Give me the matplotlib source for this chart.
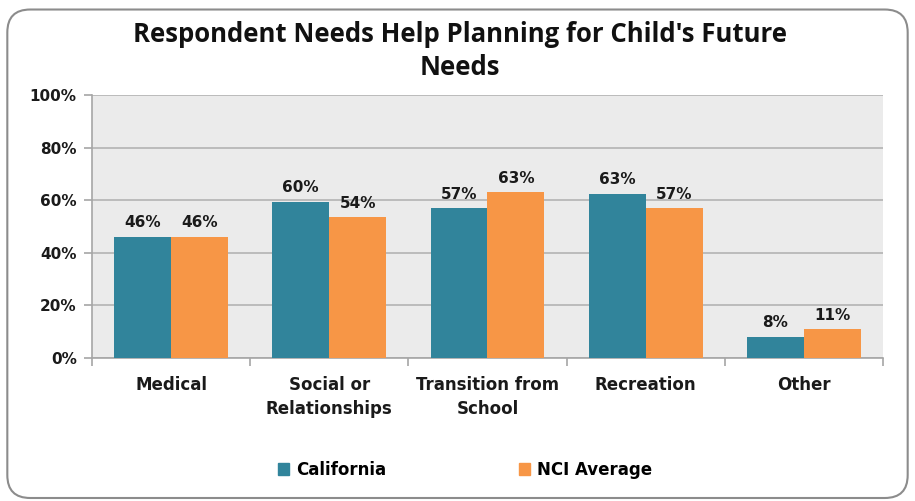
import matplotlib
matplotlib.use("Agg")
import matplotlib.pyplot as plt
import numpy as np
from matplotlib.patches import FancyBboxPatch, Patch

plt.rcParams["font.family"] = ["DejaVu Sans"]

categories = ["Medical", "Social or\nRelationships", "Transition from\nSchool", "Recreation", "Other"]
california = [46, 59.5, 57, 62.5, 8]
nci = [46, 53.5, 63, 57, 11]
california_labels = ["46%", "60%", "57%", "63%", "8%"]
nci_labels = ["46%", "54%", "63%", "57%", "11%"]
yticks = [0, 20, 40, 60, 80, 100]
ytick_labels = ["0%", "20%", "40%", "60%", "80%", "100%"]

teal = "#31849B"
orange = "#F79646"

fig = plt.figure(figsize=(9.15, 5.01), dpi=100)
fig.patch.set_facecolor("white")

border = FancyBboxPatch((0.008, 0.006), 0.984, 0.975, boxstyle="round,pad=0,rounding_size=0.025",
                        transform=fig.transFigure, facecolor="none", edgecolor="#8c8c8c",
                        linewidth=1.5, mutation_aspect=915/501, zorder=10)
fig.patches.append(border)

ax = fig.add_axes([0.1005, 0.2854, 0.8645, 0.525])
ax.set_facecolor("#EBEBEB")

x = np.arange(len(categories))
w = 0.36
b1 = ax.bar(x - w/2, california, w, color=teal, zorder=3)
b2 = ax.bar(x + w/2, nci, w, color=orange, zorder=3)

for rect, lab in zip(b1, california_labels):
    ax.text(rect.get_x() + rect.get_width()/2, rect.get_height() + 2.5, lab,
            ha="center", va="bottom", fontsize=11, fontweight="bold", color="#1a1a1a")
for rect, lab in zip(b2, nci_labels):
    ax.text(rect.get_x() + rect.get_width()/2, rect.get_height() + 2.5, lab,
            ha="center", va="bottom", fontsize=11, fontweight="bold", color="#1a1a1a")

ax.set_xlim(-0.5, len(categories) - 0.5)
ax.set_ylim(0, 100)
ax.set_yticks(yticks)
ax.set_yticklabels(ytick_labels, fontsize=11, fontweight="bold", color="#1a1a1a")
ax.yaxis.grid(True, color="#B3B3B3", linewidth=1.2, zorder=0)
ax.set_axisbelow(True)

ax.set_xticks(np.arange(-0.5, len(categories), 1.0))
ax.set_xticklabels([])
ax.set_xticks(x, minor=True)
ax.set_xticklabels(categories, minor=True, fontsize=12, fontweight="bold", color="#1a1a1a",
                   va="top", linespacing=1.4)
ax.tick_params(axis="x", which="minor", length=0, pad=13)
ax.tick_params(axis="x", which="major", length=6, color="#A6A6A6", width=1.2)
ax.tick_params(axis="y", length=6, color="#A6A6A6", width=1.2, pad=5)

for s in ["top", "right"]:
    ax.spines[s].set_visible(False)
for s in ["left", "bottom"]:
    ax.spines[s].set_color("#A6A6A6")
    ax.spines[s].set_linewidth(1.2)

fig.text(0.503, 0.898, "Respondent Needs Help Planning for Child's Future\nNeeds", ha="center", va="center",
         fontsize=18.5, fontweight="bold", family="Open Sans", linespacing=1.25, color="#111111")

handles = [Patch(color=teal, label="California"), Patch(color=orange, label="NCI Average")]
fig.legend(handles=handles, loc="center", bbox_to_anchor=(0.508, 0.062), ncol=2, frameon=False,
           handlelength=0.7, handleheight=0.7, handletextpad=0.4, columnspacing=7.95,
           prop={"size": 12, "weight": "bold"})

fig.savefig("out.png", dpi=100)
